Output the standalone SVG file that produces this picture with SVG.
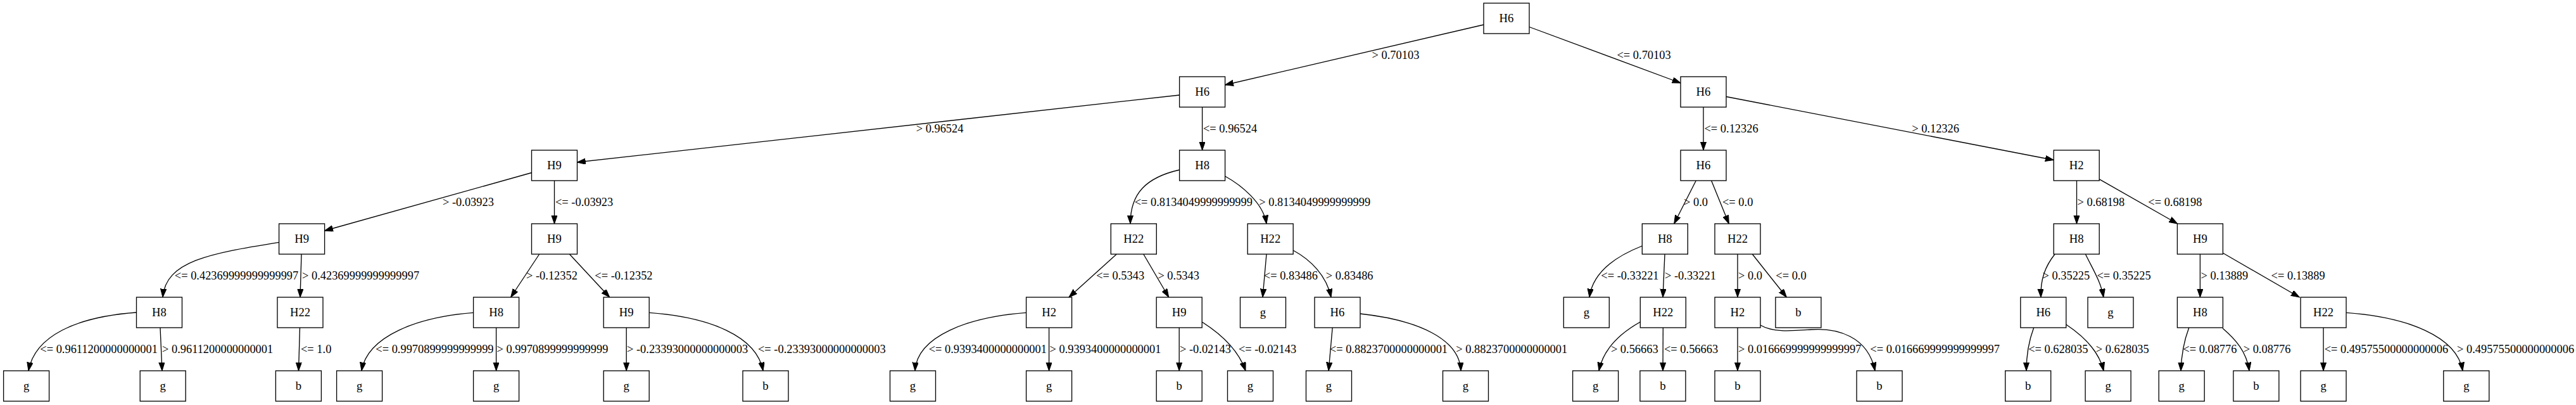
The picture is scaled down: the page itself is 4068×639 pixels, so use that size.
<svg xmlns="http://www.w3.org/2000/svg" width="4068" height="639" viewBox="0 0 4068 639">
<style>
.n rect{fill:#fff;stroke:#000;stroke-width:1.33}
.n text{font-family:"Liberation Serif","Times New Roman",serif;font-size:18.67px;text-anchor:middle;fill:#000}
.e path{fill:none;stroke:#000;stroke-width:1.33;marker-end:url(#ah)}
.l text{font-family:"Liberation Serif","Times New Roman",serif;font-size:18.4px;fill:#000}
</style>
<defs>
<marker id="ah" markerWidth="14" markerHeight="10" refX="13.3" refY="4.67" orient="auto" markerUnits="userSpaceOnUse"><path d="M0,0 L13.3,4.67 L0,9.33 z" fill="#000" stroke="#000" stroke-width="1"/></marker>
</defs>
<rect x="0" y="0" width="4068" height="639" fill="#fff"/>
<g class="e" id="edges">
<path d="M2343,39 L1934.6,134"/>
<path d="M2415,42.5 L2654,131"/>
<path d="M1862.6,150 L911.5,256"/>
<path d="M1898.6,169 L1898.6,237"/>
<path d="M2690,169 L2690,237"/>
<path d="M2726,152.5 L3243.2,252.5"/>
<path d="M839.5,272.5 L512.6,364"/>
<path d="M875.5,285 L875.5,353"/>
<path d="M1862.6,268 C1810,280 1785,305 1785,353"/>
<path d="M1934.6,278 C1960,292 1995,320 2000,353"/>
<path d="M2678.3,285 L2643.7,353"/>
<path d="M2702.6,285 L2730.3,353"/>
<path d="M3279.5,285 L3279.5,353"/>
<path d="M3315,282.7 L3438.7,353"/>
<path d="M440.6,382.3 C330,400 262,412 257,469"/>
<path d="M476,401 L474,469"/>
<path d="M851.7,401 L806.6,469"/>
<path d="M899.4,401 L962.7,469"/>
<path d="M1763.3,401 L1688,469"/>
<path d="M1805.8,401 L1845.7,469"/>
<path d="M2000,401 L1994,469"/>
<path d="M2042.2,395 C2070,410 2095,435 2102,469"/>
<path d="M2593.3,388 C2550,405 2515,430 2510,469"/>
<path d="M2629,401 L2626,469"/>
<path d="M2744,401 L2744,469"/>
<path d="M2767.3,401 L2821.4,469"/>
<path d="M3245,401 C3230,420 3222,440 3223,469"/>
<path d="M3293.4,401 C3305,425 3318,445 3321.8,469"/>
<path d="M3474.4,401 L3474.4,469"/>
<path d="M3510,399 L3631.3,469"/>
<path d="M215.5,493 C120,500 55,530 45,585"/>
<path d="M253,517 L256,585"/>
<path d="M473.5,517 L471.5,585"/>
<path d="M747.6,493.3 C660,500 580,530 571,585"/>
<path d="M783.6,517 L783.6,585"/>
<path d="M989.2,517 L989.2,585"/>
<path d="M1025.2,493.3 C1120,500 1195,530 1205,585"/>
<path d="M1620.6,493.3 C1530,500 1448,530 1445,585"/>
<path d="M1656.6,517 L1656.6,585"/>
<path d="M1862.2,517 L1862.2,585"/>
<path d="M1898.2,508 C1925,525 1955,550 1967,585"/>
<path d="M2104.2,517 L2098.1,585"/>
<path d="M2148,495 C2240,505 2305,535 2307,585"/>
<path d="M2590.3,508 C2560,525 2532,550 2525,585"/>
<path d="M2626.3,517 L2626,585"/>
<path d="M2744,517 L2744,585"/>
<path d="M2780,513 C2800,525 2830,522 2860,520 C2900,517 2950,530 2961,585"/>
<path d="M3211.7,517 C3205,535 3200,555 3200,585"/>
<path d="M3262.8,512 C3290,530 3315,555 3322,585"/>
<path d="M3456.8,517 C3450,535 3445,555 3444,585"/>
<path d="M3510,518 C3530,535 3548,555 3552,585"/>
<path d="M3669.1,517 L3669.1,585"/>
<path d="M3705.1,493.3 C3800,500 3880,530 3889,585"/>
</g>
<g class="l" id="labels">
<text x="2166.6" y="92.7">&gt; 0.70103</text>
<text x="2553.5" y="92.7">&lt;= 0.70103</text>
<text x="1446.7" y="208.7">&gt; 0.96524</text>
<text x="1900" y="208.7">&lt;= 0.96524</text>
<text x="2691.5" y="208.7">&lt;= 0.12326</text>
<text x="3019.2" y="208.7">&gt; 0.12326</text>
<text x="699" y="324.7">&gt; -0.03923</text>
<text x="877" y="324.7">&lt;= -0.03923</text>
<text x="1791.7" y="324.7">&lt;= 0.8134049999999999</text>
<text x="1988.3" y="324.7">&gt; 0.8134049999999999</text>
<text x="2659" y="324.7">&gt; 0.0</text>
<text x="2720" y="324.7">&lt;= 0.0</text>
<text x="3280.5" y="324.7">&gt; 0.68198</text>
<text x="3392.3" y="324.7">&lt;= 0.68198</text>
<text x="275.8" y="440.7">&lt;= 0.42369999999999997</text>
<text x="477" y="440.7">&gt; 0.42369999999999997</text>
<text x="831" y="440.7">&gt; -0.12352</text>
<text x="939.3" y="440.7">&lt;= -0.12352</text>
<text x="1731.2" y="440.7">&lt;= 0.5343</text>
<text x="1828.4" y="440.7">&gt; 0.5343</text>
<text x="1995.8" y="440.7">&lt;= 0.83486</text>
<text x="2093.8" y="440.7">&gt; 0.83486</text>
<text x="2528.3" y="440.7">&lt;= -0.33221</text>
<text x="2629" y="440.7">&gt; -0.33221</text>
<text x="2745" y="440.7">&gt; 0.0</text>
<text x="2804.3" y="440.7">&lt;= 0.0</text>
<text x="3225.5" y="440.7">&gt; 0.35225</text>
<text x="3311.5" y="440.7">&lt;= 0.35225</text>
<text x="3475.5" y="440.7">&gt; 0.13889</text>
<text x="3586.6" y="440.7">&lt;= 0.13889</text>
<text x="63.3" y="556.7">&lt;= 0.9611200000000001</text>
<text x="256" y="556.7">&gt; 0.9611200000000001</text>
<text x="475" y="556.7">&lt;= 1.0</text>
<text x="593.3" y="556.7">&lt;= 0.9970899999999999</text>
<text x="784.5" y="556.7">&gt; 0.9970899999999999</text>
<text x="990" y="556.7">&gt; -0.23393000000000003</text>
<text x="1197" y="556.7">&lt;= -0.23393000000000003</text>
<text x="1466.7" y="556.7">&lt;= 0.9393400000000001</text>
<text x="1657.5" y="556.7">&gt; 0.9393400000000001</text>
<text x="1863" y="556.7">&gt; -0.02143</text>
<text x="1955.9" y="556.7">&lt;= -0.02143</text>
<text x="2099.8" y="556.7">&lt;= 0.8823700000000001</text>
<text x="2299.3" y="556.7">&gt; 0.8823700000000001</text>
<text x="2543.9" y="556.7">&gt; 0.56663</text>
<text x="2628" y="556.7">&lt;= 0.56663</text>
<text x="2745" y="556.7">&gt; 0.016669999999999997</text>
<text x="2953.3" y="556.7">&lt;= 0.016669999999999997</text>
<text x="3203.2" y="556.7">&lt;= 0.628035</text>
<text x="3309.8" y="556.7">&gt; 0.628035</text>
<text x="3447.3" y="556.7">&lt;= 0.08776</text>
<text x="3542.7" y="556.7">&gt; 0.08776</text>
<text x="3670.7" y="556.7">&lt;= 0.49575500000000006</text>
<text x="3880" y="556.7">&gt; 0.49575500000000006</text>
</g>
<g id="n0" class="n"><rect x="2343" y="5" width="72" height="48"/><text x="2379" y="35">H6</text></g>
<g id="n1" class="n"><rect x="1862.6" y="121" width="72" height="48"/><text x="1898.6" y="151">H6</text></g>
<g id="n2" class="n"><rect x="2654" y="121" width="72" height="48"/><text x="2690" y="151">H6</text></g>
<g id="n3" class="n"><rect x="839.5" y="237" width="72" height="48"/><text x="875.5" y="267">H9</text></g>
<g id="n4" class="n"><rect x="1862.6" y="237" width="72" height="48"/><text x="1898.6" y="267">H8</text></g>
<g id="n5" class="n"><rect x="2654" y="237" width="72" height="48"/><text x="2690" y="267">H6</text></g>
<g id="n6" class="n"><rect x="3243.2" y="237" width="72" height="48"/><text x="3279.2" y="267">H2</text></g>
<g id="n7" class="n"><rect x="440.6" y="353" width="72" height="48"/><text x="476.6" y="383">H9</text></g>
<g id="n8" class="n"><rect x="839.5" y="353" width="72" height="48"/><text x="875.5" y="383">H9</text></g>
<g id="n9" class="n"><rect x="1754.3" y="353" width="72" height="48"/><text x="1790.3" y="383">H22</text></g>
<g id="n10" class="n"><rect x="1970.2" y="353" width="72" height="48"/><text x="2006.2" y="383">H22</text></g>
<g id="n11" class="n"><rect x="2593.3" y="353" width="72" height="48"/><text x="2629.3" y="383">H8</text></g>
<g id="n12" class="n"><rect x="2708" y="353" width="72" height="48"/><text x="2744" y="383">H22</text></g>
<g id="n13" class="n"><rect x="3243.2" y="353" width="72" height="48"/><text x="3279.2" y="383">H8</text></g>
<g id="n14" class="n"><rect x="3438.4" y="353" width="72" height="48"/><text x="3474.4" y="383">H9</text></g>
<g id="n15" class="n"><rect x="215.5" y="469" width="72" height="48"/><text x="251.5" y="499">H8</text></g>
<g id="n16" class="n"><rect x="438" y="469" width="72" height="48"/><text x="474" y="499">H22</text></g>
<g id="n17" class="n"><rect x="747.6" y="469" width="72" height="48"/><text x="783.6" y="499">H8</text></g>
<g id="n18" class="n"><rect x="953.2" y="469" width="72" height="48"/><text x="989.2" y="499">H9</text></g>
<g id="n19" class="n"><rect x="1620.6" y="469" width="72" height="48"/><text x="1656.6" y="499">H2</text></g>
<g id="n20" class="n"><rect x="1826.2" y="469" width="72" height="48"/><text x="1862.2" y="499">H9</text></g>
<g id="n21" class="n"><rect x="1958.5" y="469" width="72" height="48"/><text x="1994.5" y="499">g</text></g>
<g id="n22" class="n"><rect x="2076" y="469" width="72" height="48"/><text x="2112" y="499">H6</text></g>
<g id="n23" class="n"><rect x="2469.3" y="469" width="72" height="48"/><text x="2505.3" y="499">g</text></g>
<g id="n24" class="n"><rect x="2590.3" y="469" width="72" height="48"/><text x="2626.3" y="499">H22</text></g>
<g id="n25" class="n"><rect x="2708" y="469" width="72" height="48"/><text x="2744" y="499">H2</text></g>
<g id="n26" class="n"><rect x="2803.9" y="469" width="72" height="48"/><text x="2839.9" y="499">b</text></g>
<g id="n27" class="n"><rect x="3190.8" y="469" width="72" height="48"/><text x="3226.8" y="499">H6</text></g>
<g id="n28" class="n"><rect x="3297" y="469" width="72" height="48"/><text x="3333" y="499">g</text></g>
<g id="n29" class="n"><rect x="3438.4" y="469" width="72" height="48"/><text x="3474.4" y="499">H8</text></g>
<g id="n30" class="n"><rect x="3633.1" y="469" width="72" height="48"/><text x="3669.1" y="499">H22</text></g>
<g id="n31" class="n"><rect x="5.6" y="585" width="72" height="48"/><text x="41.6" y="615">g</text></g>
<g id="n32" class="n"><rect x="221.2" y="585" width="72" height="48"/><text x="257.2" y="615">g</text></g>
<g id="n33" class="n"><rect x="435.4" y="585" width="72" height="48"/><text x="471.4" y="615">b</text></g>
<g id="n34" class="n"><rect x="531.6" y="585" width="72" height="48"/><text x="567.6" y="615">g</text></g>
<g id="n35" class="n"><rect x="747.6" y="585" width="72" height="48"/><text x="783.6" y="615">g</text></g>
<g id="n36" class="n"><rect x="953.2" y="585" width="72" height="48"/><text x="989.2" y="615">g</text></g>
<g id="n37" class="n"><rect x="1173" y="585" width="72" height="48"/><text x="1209" y="615">b</text></g>
<g id="n38" class="n"><rect x="1405.5" y="585" width="72" height="48"/><text x="1441.5" y="615">g</text></g>
<g id="n39" class="n"><rect x="1620.6" y="585" width="72" height="48"/><text x="1656.6" y="615">g</text></g>
<g id="n40" class="n"><rect x="1826.2" y="585" width="72" height="48"/><text x="1862.2" y="615">b</text></g>
<g id="n41" class="n"><rect x="1938.5" y="585" width="72" height="48"/><text x="1974.5" y="615">g</text></g>
<g id="n42" class="n"><rect x="2062.5" y="585" width="72" height="48"/><text x="2098.5" y="615">g</text></g>
<g id="n43" class="n"><rect x="2278.5" y="585" width="72" height="48"/><text x="2314.5" y="615">g</text></g>
<g id="n44" class="n"><rect x="2483.6" y="585" width="72" height="48"/><text x="2519.6" y="615">g</text></g>
<g id="n45" class="n"><rect x="2589.9" y="585" width="72" height="48"/><text x="2625.9" y="615">b</text></g>
<g id="n46" class="n"><rect x="2708" y="585" width="72" height="48"/><text x="2744" y="615">b</text></g>
<g id="n47" class="n"><rect x="2932" y="585" width="72" height="48"/><text x="2968" y="615">b</text></g>
<g id="n48" class="n"><rect x="3166.7" y="585" width="72" height="48"/><text x="3202.7" y="615">b</text></g>
<g id="n49" class="n"><rect x="3293.1" y="585" width="72" height="48"/><text x="3329.1" y="615">g</text></g>
<g id="n50" class="n"><rect x="3409.2" y="585" width="72" height="48"/><text x="3445.2" y="615">g</text></g>
<g id="n51" class="n"><rect x="3526.9" y="585" width="72" height="48"/><text x="3562.9" y="615">b</text></g>
<g id="n52" class="n"><rect x="3633.1" y="585" width="72" height="48"/><text x="3669.1" y="615">g</text></g>
<g id="n53" class="n"><rect x="3858.8" y="585" width="72" height="48"/><text x="3894.8" y="615">g</text></g>
</svg>
